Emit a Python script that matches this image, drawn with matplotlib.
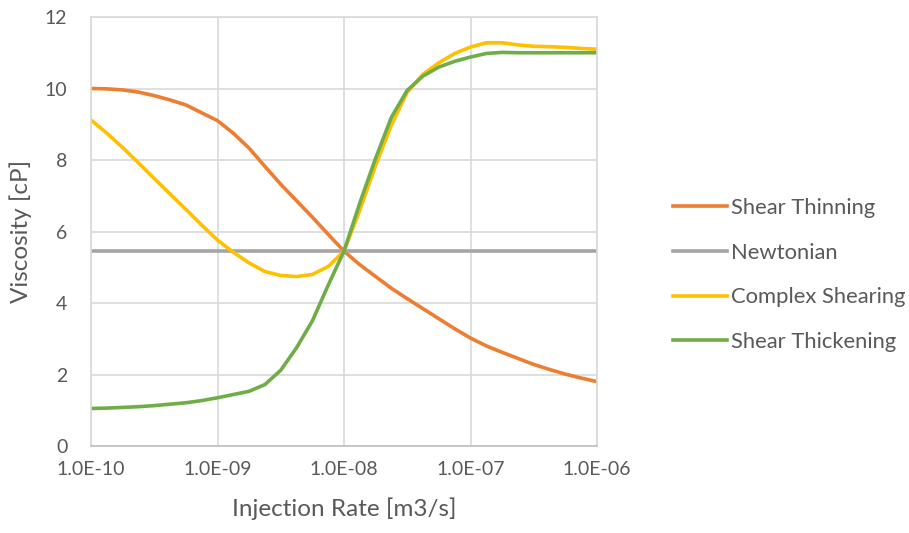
import numpy as np
import matplotlib.pyplot as plt
from matplotlib.ticker import FixedLocator, FuncFormatter

plt.rcParams['font.family'] = ['Lato', 'DejaVu Sans']

# log10 of injection rate [m3/s], sampled every 1/8 decade from 1e-10 to 1e-6
rate_log = np.arange(-10, -5.99, 0.125)

# viscosities [cP] at each rate
thin_visc = [10.0, 9.99, 9.96, 9.9, 9.8, 9.68, 9.54, 9.32, 9.1,
             8.75, 8.33, 7.82, 7.32, 6.86, 6.4, 5.92, 5.45,
             5.07, 4.74, 4.41, 4.12, 3.84, 3.56, 3.28, 3.02,
             2.8, 2.62, 2.45, 2.28, 2.14, 2.01, 1.9, 1.8]

newt_visc = [5.45] * len(rate_log)

complex_visc = [9.12, 8.75, 8.35, 7.92, 7.48, 7.05, 6.62, 6.18, 5.76,
                5.42, 5.12, 4.88, 4.77, 4.74, 4.8, 5.02, 5.45,
                6.6, 7.85, 8.98, 9.9, 10.4, 10.72, 10.98, 11.16,
                11.28, 11.28, 11.22, 11.18, 11.17, 11.15, 11.12, 11.1]

thick_visc = [1.05, 1.06, 1.08, 1.1, 1.13, 1.17, 1.21, 1.27, 1.35,
              1.44, 1.53, 1.72, 2.12, 2.75, 3.5, 4.5, 5.45,
              6.8, 8.05, 9.2, 9.95, 10.35, 10.6, 10.76, 10.88,
              10.98, 11.01, 11.0, 11.0, 11.0, 11.0, 11.0, 11.0]

x_ticks = [1e-10, 1e-9, 1e-8, 1e-7, 1e-6]

txt = '#595959'
grid_c = '#d9d9d9'

fig = plt.figure(figsize=(9.09, 5.33), dpi=100)
ax = fig.add_axes([0.1001, 0.1632, 0.5567, 0.8049])

rate = 10.0 ** rate_log
lw = 2.6
ax.plot(rate, thin_visc, color='#ED7D31', lw=lw, label='Shear Thinning')
ax.plot(rate, newt_visc, color='#A5A5A5', lw=lw, label='Newtonian')
ax.plot(rate, complex_visc, color='#FFC000', lw=lw, label='Complex Shearing')
ax.plot(rate, thick_visc, color='#70AD47', lw=lw, label='Shear Thickening')

ax.set_xscale('log')
ax.set_xlim(1e-10, 1e-6)
ax.set_ylim(0, 12)
ax.xaxis.set_major_locator(FixedLocator(x_ticks))
ax.xaxis.set_minor_locator(FixedLocator([]))
ax.xaxis.set_major_formatter(FuncFormatter(lambda v, p: f"{v:.1E}"))
ax.set_yticks(range(0, 13, 2))

ax.grid(True, color=grid_c, lw=1.2)
ax.set_axisbelow(True)
for s in ax.spines.values():
    s.set_color(grid_c)
    s.set_linewidth(1.2)
ax.spines['bottom'].set_color('#bfbfbf')
ax.tick_params(length=0, labelsize=14, colors=txt)
ax.tick_params(axis='x', pad=11)
ax.tick_params(axis='y', pad=17)

ax.set_xlabel('Injection Rate [m3/s]', fontsize=17.5, color=txt, labelpad=14)
ax.set_ylabel('Viscosity [cP]', fontsize=17.5, color=txt, labelpad=9)

fig.legend(loc='center left', bbox_to_anchor=(0.7305, 0.484), frameon=False,
           fontsize=15.8, labelcolor=txt, handlelength=2.47, handletextpad=0.2,
           labelspacing=1.12, borderaxespad=0)

fig.savefig('out.png', dpi=100)
